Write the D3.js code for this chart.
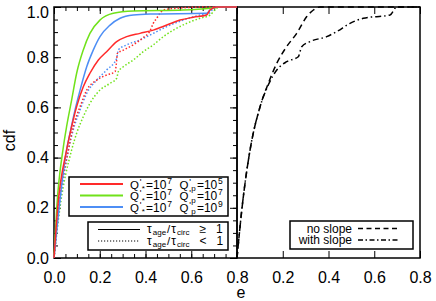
<!DOCTYPE html>
<html><head><meta charset="utf-8">
<script src="https://cdn.jsdelivr.net/npm/d3@7"></script>
<style>body{margin:0;background:#fff}svg{display:block}text{font-family:"Liberation Sans",Arial,Helvetica,sans-serif;fill:#000}</style>
</head><body><svg id="c" width="436" height="301"></svg>
<script>
// ---------- data ----------
const xTicksLeft = [0, 0.2, 0.4, 0.6, 0.8];
const xTicksRight = [0.2, 0.4, 0.6, 0.8];
const yTicks = [0, 0.2, 0.4, 0.6, 0.8, 1.0];

const eRedSolid = [0,0.016,0.055,0.077,0.099,0.128,0.157,0.194,0.230,0.274,0.318,0.376,0.434,0.493,0.551,0.609,0.667,0.682,0.711,0.8];
const cRedSolid = [0,0.2,0.43,0.523,0.603,0.682,0.736,0.789,0.822,0.862,0.882,0.895,0.908,0.928,0.948,0.959,0.968,0.988,1,1];
const eGreenSolid = [0,0.012,0.041,0.055,0.077,0.099,0.128,0.157,0.201,0.259,0.347,0.565,0.682,0.726,0.8];
const cGreenSolid = [0,0.2,0.443,0.523,0.629,0.736,0.829,0.895,0.948,0.975,0.984,0.988,0.995,1,1];
const eBlueSolid = [0,0.022,0.055,0.070,0.092,0.114,0.143,0.172,0.201,0.245,0.289,0.347,0.42,0.667,0.682,0.711,0.8];
const cBlueSolid = [0,0.2,0.43,0.497,0.59,0.669,0.762,0.829,0.882,0.928,0.955,0.968,0.972,0.975,0.988,1,1];

const eRedDot = [0,0.02,0.063,0.084,0.114,0.143,0.187,0.230,0.267,0.272,0.277,0.303,0.347,0.390,0.420,0.434,0.449,0.463,0.478,0.536,0.667,0.8];
const cRedDot = [0,0.2,0.43,0.523,0.603,0.669,0.709,0.729,0.742,0.77,0.815,0.828,0.85,0.878,0.905,0.935,0.955,0.975,0.988,0.995,1,1];
const eBlueDot = [0,0.024,0.063,0.084,0.114,0.143,0.187,0.230,0.274,0.281,0.318,0.376,0.434,0.493,0.565,0.638,0.682,0.697,0.726,0.8];
const cBlueDot = [0,0.2,0.43,0.51,0.59,0.656,0.709,0.749,0.795,0.829,0.849,0.869,0.895,0.922,0.948,0.968,0.977,0.995,1,1];
const eGreenDot = [0,0.026,0.077,0.099,0.128,0.157,0.201,0.245,0.274,0.281,0.303,0.347,0.390,0.434,0.478,0.522,0.580,0.638,0.682,0.711,0.726,0.8];
const cGreenDot = [0,0.2,0.43,0.497,0.563,0.616,0.669,0.696,0.716,0.742,0.762,0.789,0.822,0.849,0.882,0.908,0.935,0.955,0.968,0.995,1,1];

const eNoSlope = [0,0.022,0.057,0.101,0.137,0.174,0.217,0.261,0.305,0.334,0.363,0.8];
const cNoSlope = [0,0.2,0.43,0.603,0.696,0.776,0.842,0.895,0.962,0.988,1,1];
const eWithSlope = [0,0.022,0.057,0.101,0.137,0.174,0.217,0.268,0.283,0.319,0.392,0.436,0.494,0.552,0.669,0.698,0.8];
const cWithSlope = [0,0.2,0.43,0.603,0.69,0.749,0.782,0.802,0.842,0.862,0.882,0.902,0.935,0.955,0.968,1,1];

const qExponents = ["5", "7", "9"];
const legendTau = ["≥", "<"];
const legendSlope = ["no slope", "with slope"];

// ---------- layout ----------
const svg = d3.select("#c");
const L = 54, P = 183, T = 7, B = 258;
const xL = d3.scaleLinear().domain([0, 0.8]).range([L, L + P]);
const xR = d3.scaleLinear().domain([0, 0.8]).range([L + P, L + 2 * P]);
const y = d3.scaleLinear().domain([0, 1]).range([B, T]);
const RED = "#ff2a2a", GREEN = "#70e21a", BLUE = "#4d8ef5";
const minorX = d3.range(0, 0.8001, 0.05);
const minorY = d3.range(0, 1.0001, 0.05);

function ticks(axis, tr) {
  const g = svg.append("g").attr("transform", tr).call(axis);
  g.select(".domain").remove();
  g.selectAll("line").attr("stroke", "#000").attr("stroke-width", 1);
  return g;
}
ticks(d3.axisBottom(xL).tickValues(minorX).tickSize(-4).tickFormat(""), `translate(0,${B})`);
ticks(d3.axisBottom(xL).tickValues(xTicksLeft).tickSize(-7).tickFormat(""), `translate(0,${B})`);
ticks(d3.axisTop(xL).tickValues(minorX).tickSize(-4).tickFormat(""), `translate(0,${T})`);
ticks(d3.axisTop(xL).tickValues(xTicksLeft).tickSize(-7).tickFormat(""), `translate(0,${T})`);
ticks(d3.axisLeft(y).tickValues(minorY).tickSize(-4).tickFormat(""), `translate(${L},0)`);
ticks(d3.axisLeft(y).tickValues(yTicks).tickSize(-7).tickFormat(""), `translate(${L},0)`);
ticks(d3.axisRight(y).tickValues(minorY).tickSize(-4).tickFormat(""), `translate(${L + P},0)`);
ticks(d3.axisRight(y).tickValues(yTicks).tickSize(-7).tickFormat(""), `translate(${L + P},0)`);
ticks(d3.axisBottom(xR).tickValues(xTicksRight).tickSize(-7).tickFormat(""), `translate(0,${B})`);
ticks(d3.axisTop(xR).tickValues(xTicksRight).tickSize(-7).tickFormat(""), `translate(0,${T})`);

const fmt = d3.format(".1f");
function labels(axis, tr) {
  const g = svg.append("g").attr("transform", tr).call(axis);
  g.select(".domain").remove();
  g.selectAll("line").remove();
  g.selectAll("text").attr("font-family", null).style("font-size", "16px").attr("fill", "#000");
  return g;
}
labels(d3.axisBottom(xL).tickValues(xTicksLeft).tickSize(0).tickPadding(14).tickFormat(fmt), `translate(0,${B})`);
labels(d3.axisBottom(xR).tickValues(xTicksRight).tickSize(0).tickPadding(14).tickFormat(fmt), `translate(0,${B})`);
const yl = labels(d3.axisLeft(y).tickValues(yTicks).tickSize(0).tickPadding(5).tickFormat(fmt), `translate(${L},0)`);
yl.selectAll("text").filter(d => d === 1).attr("dy", "0.68em");

svg.append("text").attr("x", 241).attr("y", 298).attr("text-anchor", "middle").style("font-size", "16px").text("e");
svg.append("text").attr("transform", `translate(15,${(T + B) / 2 + 8}) rotate(-90)`).attr("text-anchor", "middle").style("font-size", "16px").text("cdf");

svg.append("rect").attr("x", L).attr("y", T).attr("width", P).attr("height", B - T).attr("fill", "none").attr("stroke", "#000").attr("stroke-width", 1.5);
svg.append("rect").attr("x", L + P).attr("y", T).attr("width", P).attr("height", B - T).attr("fill", "none").attr("stroke", "#000").attr("stroke-width", 1.5);

function curve(xs, es, cs, color, dash) {
  const pts = es.map((e, i) => [xs(e), y(cs[i])]);
  svg.append("path").attr("d", d3.line().curve(d3.curveMonotoneX)(pts))
    .attr("fill", "none").attr("stroke", color).attr("stroke-width", 1.5)
    .attr("stroke-dasharray", dash || null);
}
const DOT = "1.5,2", DASH = "6,4", DASHDOT = "6,3,1.5,3";
curve(xL, eGreenDot, cGreenDot, GREEN, DOT);
curve(xL, eBlueDot, cBlueDot, BLUE, DOT);
curve(xL, eRedDot, cRedDot, RED, DOT);
curve(xL, eGreenSolid, cGreenSolid, GREEN);
curve(xL, eBlueSolid, cBlueSolid, BLUE);
curve(xL, eRedSolid, cRedSolid, RED);
curve(xR, eNoSlope, cNoSlope, "#000", DASH);
curve(xR, eWithSlope, cWithSlope, "#000", DASHDOT);

// rich text: one <text> per row, tspans placed from measured widths
function rich(g, x, yb, segs) {
  const probe = g.append("text").style("visibility", "hidden");
  const widths = segs.map(s => {
    probe.style("font-size", s.fs + "px").text(s.t);
    return probe.node().getComputedTextLength();
  });
  probe.remove();
  const t = g.append("text");
  let cx = x;
  segs.forEach((s, i) => {
    if (s.pre) cx += s.pre;
    t.append("tspan").attr("x", cx).attr("y", yb + (s.dy || 0)).style("font-size", s.fs + "px").text(s.t);
    cx += widths[i];
  });
  return t;
}

const lg1 = svg.append("g");
lg1.append("rect").attr("x", 69).attr("y", 177).attr("width", 159).attr("height", 39).attr("fill", "#fff").attr("stroke", "#000").attr("stroke-width", 1.5);
[RED, GREEN, BLUE].forEach((c, i) => {
  const ly = 184 + i * 11.5;
  lg1.append("line").attr("x1", 80).attr("x2", 123).attr("y1", ly).attr("y2", ly).attr("stroke", c).attr("stroke-width", 2);
  rich(lg1, 130, ly + 4.5, [
    {t: "Q", fs: 11.5}, {t: "'", fs: 9, dy: -4, pre: 0.8}, {t: "*", fs: 8, dy: 2.5, pre: 0.3},
    {t: "=10", fs: 12, pre: 1.2}, {t: "7", fs: 8.5, dy: -5, pre: 0.8},
    {t: "Q", fs: 11.5, pre: 7.5}, {t: "'", fs: 9, dy: -4, pre: 0.8}, {t: "p", fs: 8, dy: 2.5, pre: 0.3},
    {t: "=10", fs: 12, pre: 1.2}, {t: qExponents[i], fs: 8.5, dy: -5, pre: 0.8}
  ]);
});

const lg2 = svg.append("g");
lg2.append("rect").attr("x", 88).attr("y", 222).attr("width", 140).attr("height", 28).attr("fill", "#fff").attr("stroke", "#000").attr("stroke-width", 1.5);
[null, "1.2,1.8"].forEach((d, i) => {
  const ly = 229.5 + i * 11.5;
  lg2.append("line").attr("x1", 98).attr("x2", 140).attr("y1", ly).attr("y2", ly).attr("stroke", "#000").attr("stroke-width", 1.2).attr("stroke-dasharray", d);
  rich(lg2, 147, ly + 3.5, [
    {t: "τ", fs: 12}, {t: "age", fs: 8, dy: 2, pre: 1}, {t: "/", fs: 11.5, pre: 1},
    {t: "τ", fs: 12, pre: 1}, {t: "circ", fs: 8, dy: 2, pre: 1},
    {t: legendTau[i], fs: 12, pre: 10}, {t: "1", fs: 12, pre: 10}
  ]);
});

const lg3 = svg.append("g");
lg3.append("rect").attr("x", 290).attr("y", 221).attr("width", 123).attr("height", 28).attr("fill", "#fff").attr("stroke", "#000").attr("stroke-width", 1.5);
[DASH, DASHDOT].forEach((d, i) => {
  const ly = 228.5 + i * 11.5;
  lg3.append("text").attr("x", 352).attr("y", ly + 4).attr("text-anchor", "end").style("font-size", "12px").text(legendSlope[i]);
  lg3.append("line").attr("x1", 358).attr("x2", 400).attr("y1", ly).attr("y2", ly).attr("stroke", "#000").attr("stroke-width", 1.3).attr("stroke-dasharray", d === DASH ? "5,3.5" : "5,2.5,1.5,2.5");
});
</script></body></html>
